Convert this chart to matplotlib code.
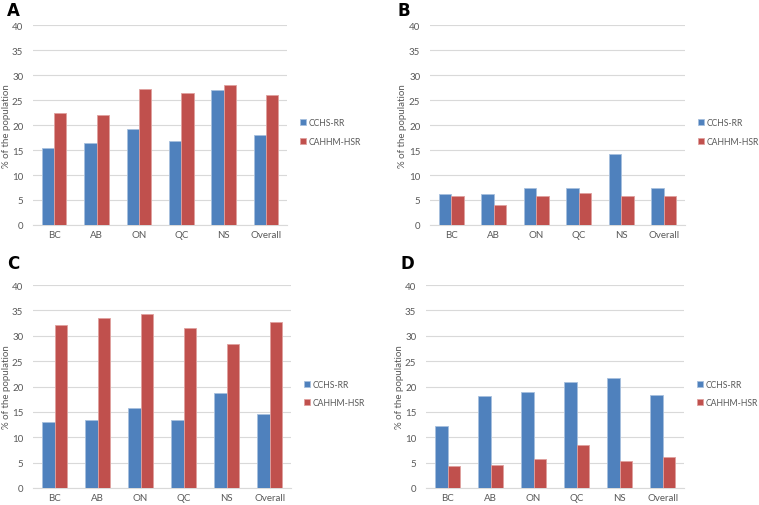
import numpy as np
import matplotlib.pyplot as plt

plt.rcParams['font.family'] = ['Lato', 'DejaVu Sans']

regions = ['BC', 'AB', 'ON', 'QC', 'NS', 'Overall']
series_names = ['CCHS-RR', 'CAHHM-HSR']

# panel A
a_cchs = [15.5, 16.5, 19.3, 16.8, 27.1, 18.0]
a_cahhm = [22.5, 22.1, 27.3, 26.5, 28.0, 26.1]
# panel B
b_cchs = [6.2, 6.3, 7.4, 7.5, 14.2, 7.4]
b_cahhm = [5.8, 3.9, 5.7, 6.4, 5.7, 5.7]
# panel C
c_cchs = [13.1, 13.4, 15.8, 13.5, 18.7, 14.6]
c_cahhm = [32.1, 33.6, 34.3, 31.5, 28.4, 32.7]
# panel D
d_cchs = [12.2, 18.1, 18.9, 20.9, 21.6, 18.4]
d_cahhm = [4.4, 4.6, 5.7, 8.5, 5.4, 6.1]

panels = [
    ('A', a_cchs, a_cahhm, [0.0435, 0.5534, 0.335, 0.395], (7 / 759, 1 - 11 / 506)),
    ('B', b_cchs, b_cahhm, [0.5665, 0.5534, 0.336, 0.395], (397 / 759, 1 - 11 / 506)),
    ('C', c_cchs, c_cahhm, [0.0435, 0.0336, 0.340, 0.401], (7 / 759, 1 - 264 / 506)),
    ('D', d_cchs, d_cahhm, [0.5613, 0.0336, 0.340, 0.401], (400 / 759, 1 - 264 / 506)),
]

blue = '#4F81BD'
red = '#C0504D'
grid_col = '#D9D9D9'
text_col = '#595959'

fig = plt.figure(figsize=(7.59, 5.06), dpi=100)
x = np.arange(len(regions))
w = 0.29

for label, s1, s2, pos, lpos in panels:
    ax = fig.add_axes(pos)
    ax.bar(x - w / 2, s1, w, color=blue, edgecolor='#A7C0DE', linewidth=0.6,
           label=series_names[0], zorder=3)
    ax.bar(x + w / 2, s2, w, color=red, edgecolor='#E0A09E', linewidth=0.6,
           label=series_names[1], zorder=3)
    ax.set_ylim(0, 40)
    ax.set_xlim(-0.5, len(regions) - 0.5)
    ax.set_yticks(range(0, 41, 5))
    ax.set_xticks(x)
    ax.set_xticklabels(regions)
    ax.yaxis.grid(True, color=grid_col, linewidth=0.8, zorder=0)
    for s in ['top', 'right', 'left']:
        ax.spines[s].set_visible(False)
    ax.spines['bottom'].set_color(grid_col)
    ax.spines['bottom'].set_linewidth(0.8)
    ax.tick_params(length=0, labelsize=7, colors=text_col)
    ax.tick_params(axis='x', pad=3.5)
    ax.tick_params(axis='y', pad=7)
    ax.set_ylabel('% of the population', fontsize=7, color=text_col, labelpad=1)
    ax.legend(loc='center left', bbox_to_anchor=(1.02, 0.465), frameon=False,
              fontsize=6.2, labelcolor=text_col, handlelength=0.7,
              handleheight=0.7, handletextpad=0.3, labelspacing=1.1)
    fig.text(lpos[0], lpos[1], label, fontsize=12, fontweight='bold',
             family='DejaVu Sans', va='center', ha='left')

plt.savefig('out.png', dpi=100)
